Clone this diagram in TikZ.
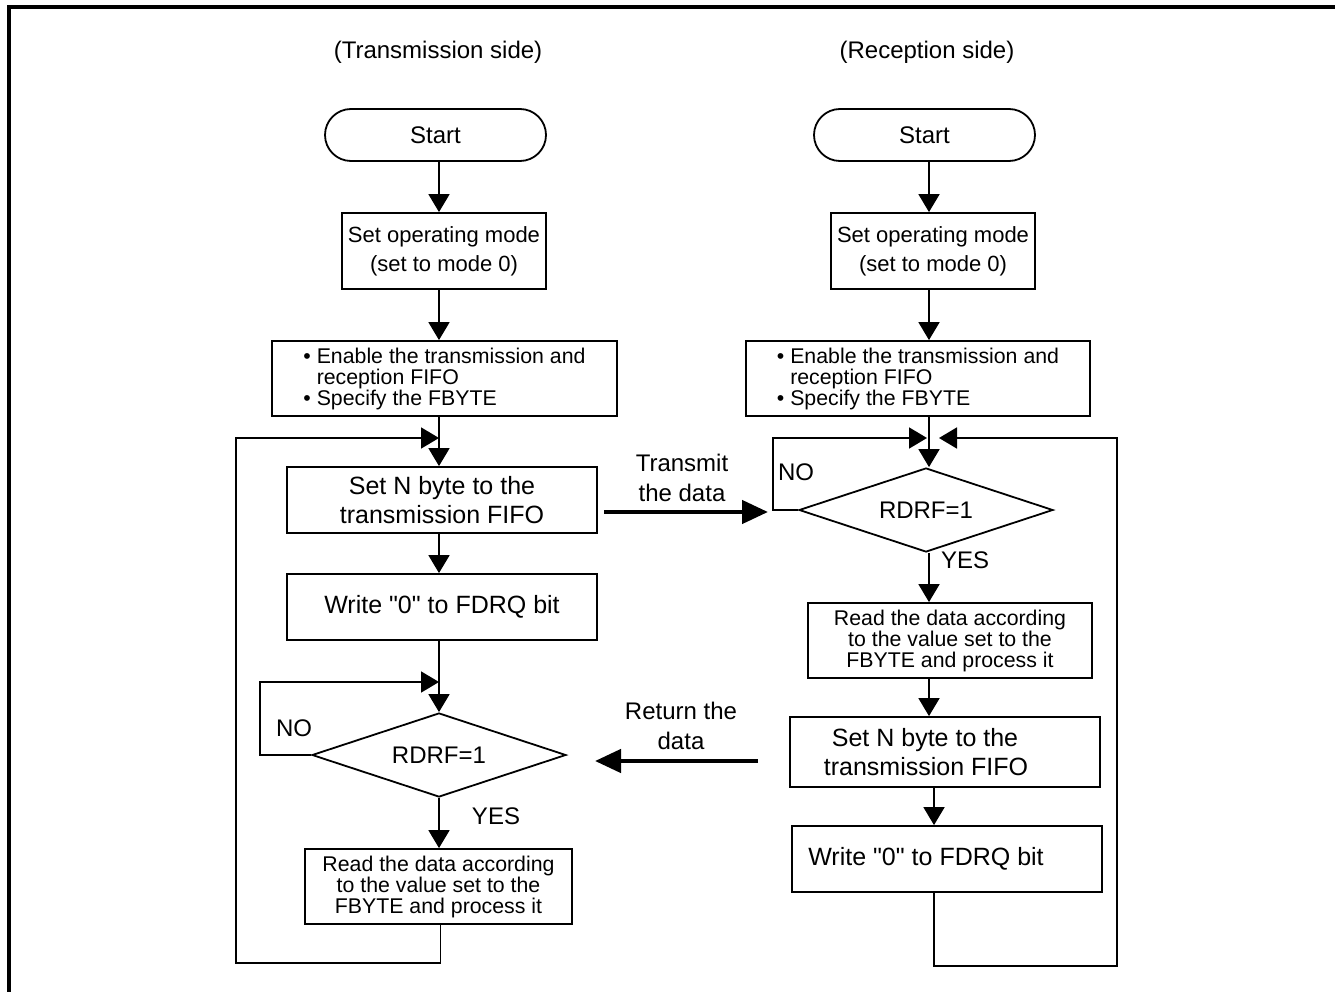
\documentclass[tikz,border=0pt]{standalone}
\usepackage{fontspec}
\setmainfont{Liberation Sans}
\usepackage{xcolor}
\usetikzlibrary{shapes.geometric,arrows.meta,positioning}

\begin{document}
\begin{tikzpicture}[
    x=1pt, y=-1pt,
    every node/.style={font=\fontsize{24}{30}\selectfont},
    terminal/.style={rectangle, rounded corners=26pt, draw, line width=1.8pt, minimum width=221pt, minimum height=52pt, inner sep=0pt},
    box/.style={rectangle, draw, line width=1.8pt, inner sep=0pt, align=center, font=\fontsize{25}{29}\selectfont},
    modebox/.style={box, font=\fontsize{22}{29}\selectfont},
    notebox/.style={box, font=\fontsize{21.3}{21}\selectfont},
    decision/.style={diamond, draw, line width=1.8pt, shape aspect=3, inner sep=0pt, minimum width=254pt, minimum height=84pt},
    line/.style={line width=1.8pt},
    arrow/.style={line, -{Triangle[length=18pt,width=21pt]}},
    bigarrow/.style={line width=4.5pt, -{Triangle[length=26pt,width=23pt]}}
]
\useasboundingbox (0,0) rectangle (1335,992);
\draw[line width=3.5pt] (9,7) rectangle (1400,1100);

\coordinate (lcol) at (439,0);
\coordinate (rcol) at (929,0);
\coordinate (rcol2) at (934,0);

% transmission side
\node (ltitle) at (438,52) {(Transmission side)};
\node[terminal] (lstart) at (435.5,135) {Start};
\node[modebox, minimum width=204pt, minimum height=76pt] (lmode) at (444,251) {Set operating mode\\(set to mode 0)};
\node[notebox, align=left, minimum width=345pt, minimum height=75pt] (lfifo) at (444.5,378.5)
    {\textbullet\ Enable the transmission and\\\phantom{\textbullet}\ reception FIFO\\\textbullet\ Specify the FBYTE};
\node[box, minimum width=310pt, minimum height=66pt] (lsetn) at (442,500) {Set N byte to the\\transmission FIFO};
\node[box, minimum width=310pt, minimum height=66pt] (lwrite) at (442,607) {Write \textquotedbl0\textquotedbl\ to FDRQ bit};
\node[decision] (ldec) at (439,755) {RDRF=1};
\node[notebox, minimum width=267pt, minimum height=75pt] (lread) at (438.5,886.5)
    {Read the data according\\to the value set to the\\FBYTE and process it};
\node (lno) at (294,728) {NO};
\node (lyes) at (496,816) {YES};

% reception side
\node (rtitle) at (927,52) {(Reception side)};
\node[terminal] (rstart) at (924.5,135) {Start};
\node[modebox, minimum width=204pt, minimum height=76pt] (rmode) at (933,251) {Set operating mode\\(set to mode 0)};
\node[notebox, align=left, minimum width=344pt, minimum height=75pt] (rfifo) at (918,378.5)
    {\textbullet\ Enable the transmission and\\\phantom{\textbullet}\ reception FIFO\\\textbullet\ Specify the FBYTE};
\node[decision] (rdec) at (926,510) {RDRF=1};
\node[notebox, minimum width=284pt, minimum height=75pt] (rread) at (950,640.5)
    {Read the data according\\to the value set to the\\FBYTE and process it};
\node[box, minimum width=310pt, minimum height=70pt] (rsetn) at (945,752) {Set N byte to the\hspace*{40pt}\\transmission FIFO\hspace*{38pt}};
\node[box, minimum width=310pt, minimum height=66pt] (rwrite) at (947,859) {Write \textquotedbl0\textquotedbl\ to FDRQ bit\hspace*{42pt}};
\node (rno) at (796,472) {NO};
\node (ryes) at (965,560) {YES};

% data exchange
\node[align=center] (txlabel) at (682,478) {Transmit\\the data};
\node[align=center] (rxlabel) at (681,726) {Return the\\data};

\draw[arrow] (lstart.south -| lcol) -- (lmode.north -| lcol);
\draw[arrow] (lmode.south -| lcol) -- (lfifo.north -| lcol);
\draw[arrow] (lfifo.south -| lcol) -- (lsetn.north -| lcol);
\draw[arrow] (lsetn.south -| lcol) -- (lwrite.north -| lcol);
\draw[arrow] (lwrite.south -| lcol) -- (ldec.north);
\draw[arrow] (ldec.south) -- (lread.north -| ldec.south);

\coordinate (lj1) at (439,438);
\coordinate (lc1) at (236,963);
\coordinate (lj2) at (439,682);
\coordinate (lc2) at (260,755);
\draw[arrow] (ldec.west) -- (lc2) |- (lj2);
\draw[arrow] ([xshift=2pt]lread.south) |- (lc1) |- (lj1);

\draw[arrow] (rstart.south -| rcol) -- (rmode.north -| rcol);
\draw[arrow] (rmode.south -| rcol) -- (rfifo.north -| rcol);
\draw[arrow] (rfifo.south -| rcol) -- (rdec.north -| rcol);
\draw[arrow] (rdec.south -| rcol) -- (rread.north -| rcol);
\draw[arrow] (rread.south -| rcol) -- (rsetn.north -| rcol);
\draw[arrow] (rsetn.south -| rcol2) -- (rwrite.north -| rcol2);

\coordinate (rj1) at (927,438);
\coordinate (rc1) at (773,510);
\coordinate (rj2) at (939,438);
\coordinate (rc2) at (1117,966);
\draw[arrow] (rdec.west) -- (rc1) |- (rj1);
\draw[arrow] (rwrite.south -| rcol2) |- (rc2) |- (rj2);

\coordinate (txs) at (604,512);
\coordinate (txe) at (768,512);
\coordinate (rxs) at (758,761);
\coordinate (rxe) at (595,761);
\draw[bigarrow] (txs) -- (txe);
\draw[bigarrow] (rxs) -- (rxe);

\end{tikzpicture}
\end{document}
